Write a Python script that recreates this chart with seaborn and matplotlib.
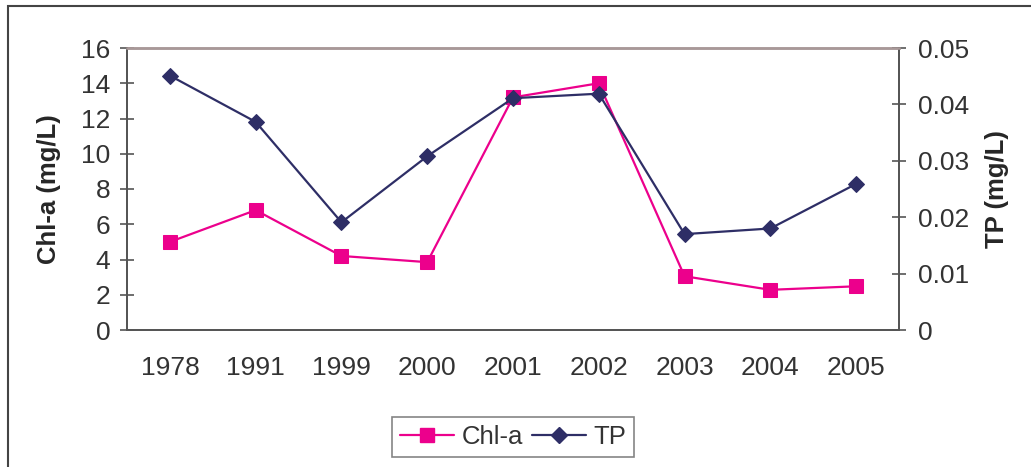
import matplotlib
matplotlib.use("Agg")
import matplotlib.pyplot as plt
import numpy as np
import pandas as pd
import seaborn as sns
from matplotlib.lines import Line2D
from matplotlib.patches import Rectangle

years = ['1978', '1991', '1999', '2000', '2001', '2002', '2003', '2004', '2005']
chla = [5.0, 6.8, 4.2, 3.85, 13.2, 14.0, 3.05, 2.28, 2.48]
tp = [0.0451, 0.0369, 0.0191, 0.0308, 0.0411, 0.0419, 0.0170, 0.0180, 0.0259]

chl_ticks = [0, 2, 4, 6, 8, 10, 12, 14, 16]
tp_ticks = [0, 0.01, 0.02, 0.03, 0.04, 0.05]
tp_labels = ['0', '0.01', '0.02', '0.03', '0.04', '0.05']

pink = '#EC008C'
navy = '#2E2E66'
txt = '#333333'

df = pd.DataFrame({'year': years, 'chla': chla, 'tp': tp})
df['pos'] = np.arange(len(years))

sns.set_style('white')
plt.rcParams['font.family'] = ['Liberation Sans', 'DejaVu Sans']
plt.rcParams['text.color'] = txt

fig = plt.figure(figsize=(10.31, 4.67), dpi=100)
ax = fig.add_axes([127 / 1031, 1 - 330 / 467, 772 / 1031, 282 / 467])
ax2 = ax.twinx()

sns.lineplot(data=df, x='pos', y='chla', ax=ax, color=pink, marker='s',
             markersize=10, markeredgecolor=pink, lw=1.6)
sns.lineplot(data=df, x='pos', y='tp', ax=ax2, color=navy, marker='D',
             markersize=8, markeredgecolor=navy, lw=1.6)

ax.set_xlim(-0.5, len(years) - 0.5)
ax.set_ylim(0, 16)
ax2.set_ylim(0, 0.05)

# category boundaries get the tick marks, labels sit between them
ax.set_xticks(np.arange(len(years) + 1) - 0.5)
ax.set_xticklabels([])
ax.set_xticks(np.arange(len(years)), minor=True)
ax.set_xticklabels(years, minor=True)
ax.tick_params(axis='x', which='major', direction='inout', length=10, width=1.2, colors='#888888')
ax.tick_params(axis='x', which='minor', length=0, pad=19, labelsize=19, labelcolor=txt)

ax.set_yticks(chl_ticks)
ax.tick_params(axis='y', direction='inout', length=10, width=1.2, pad=7, labelsize=19,
               colors='#555555', labelcolor=txt, left=True)
ax2.set_yticks(tp_ticks)
ax2.set_yticklabels(tp_labels)
ax2.tick_params(axis='y', direction='inout', length=10, width=1.2, pad=9, labelsize=19,
                colors='#555555', labelcolor=txt, right=True)

ax.set_xlabel('')
ax.set_ylabel('Chl-a (mg/L)', fontsize=18.5, fontweight='bold')
ax2.set_ylabel('TP (mg/L)', fontsize=18.5, fontweight='bold')
ax.yaxis.set_label_coords(-0.085, 0.5)
ax2.yaxis.set_label_coords(1.111, 0.5)

for a in (ax, ax2):
    for s in a.spines.values():
        s.set_linewidth(1.3)
    a.spines['left'].set_color('#555555')
    a.spines['right'].set_color('#555555')
    a.spines['bottom'].set_color('#555555')
    a.spines['top'].set_color('#A89898')
    a.spines['top'].set_linewidth(1.8)

handles = [
    Line2D([], [], color=pink, marker='s', markersize=10, lw=1.6),
    Line2D([], [], color=navy, marker='D', markersize=8, lw=1.6),
]
leg = fig.legend(handles, ['Chl-a', 'TP'], loc='center', bbox_to_anchor=(513 / 1031, 1 - 437 / 467),
                 ncol=2, fontsize=18.5, frameon=True, fancybox=False, handlelength=2.1,
                 columnspacing=0.35, handletextpad=0.3, borderpad=0.3, labelcolor=txt)
leg.get_frame().set_edgecolor('#666666')
leg.get_frame().set_linewidth(1.2)

fig.patches.append(Rectangle((8 / 1031, -0.1), 1.2, 1 - 6 / 467 + 0.1, transform=fig.transFigure,
                             fill=False, edgecolor='#444444', lw=1.5, zorder=-1))

fig.savefig('out.png', dpi=100)
